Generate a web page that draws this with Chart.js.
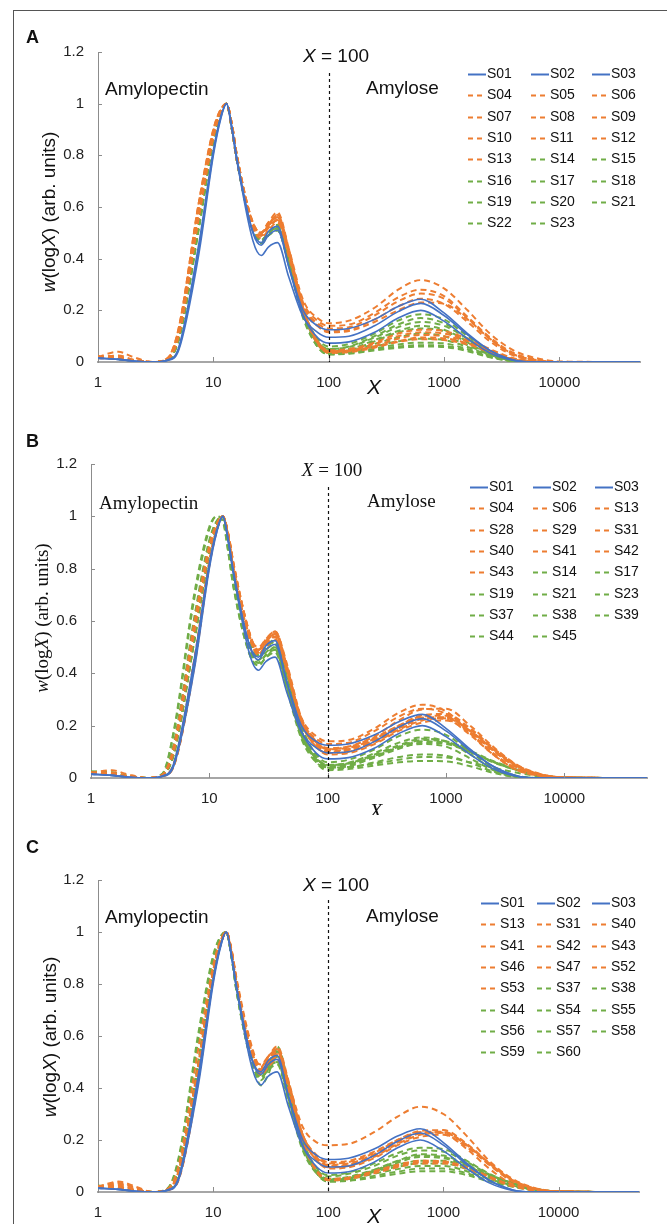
<!DOCTYPE html>
<html>
<head>
<meta charset="utf-8">
<script src="https://cdn.jsdelivr.net/npm/chart.js@4.4.1/dist/chart.umd.min.js"></script>
<style>
  body { margin: 0; background: #fff; }
  #wrap { position: relative; width: 667px; height: 1224px; overflow: hidden; }
  #frame { position: absolute; left: 13px; top: 10px; width: 700px; height: 1300px;
           border-left: 1.5px solid #555; border-top: 1.5px solid #555; }
  canvas { position: absolute; left: 0; }
</style>
</head>
<body>
<div id="wrap">
  <div id="frame"></div>
  <canvas id="chartA" width="667" height="400" style="top:0px"></canvas>
  <canvas id="chartB" width="667" height="415" style="top:400px"></canvas>
  <canvas id="chartC" width="667" height="409" style="top:815px"></canvas>
</div>
<script>
// degree of polymerization grid (X) shared by every curve
const X = [1, 1.5, 2, 3, 4, 5, 7.5, 10, 11.5, 13, 14.5, 16, 22, 26, 30, 36, 45, 60, 80, 100, 150, 250, 400, 630, 1000, 1600, 2500, 4000, 6300, 10000, 50000];
const xTicks = [1, 10, 100, 1000, 10000];

// w(logX) per sample
const S01 = [0.015, 0.010, 0.004, 0, 0.006, 0.045, 0.42, 0.80, 0.935, 1, 0.90, 0.78, 0.47, 0.412, 0.445, 0.462, 0.33, 0.175, 0.115, 0.096, 0.100, 0.140, 0.195, 0.227, 0.180, 0.105, 0.045, 0.008, 0, 0, 0];
const S02 = [0.015, 0.010, 0.004, 0, 0.007, 0.05, 0.44, 0.81, 0.94, 1, 0.91, 0.79, 0.50, 0.452, 0.49, 0.51, 0.37, 0.20, 0.14, 0.125, 0.13, 0.165, 0.215, 0.243, 0.19, 0.11, 0.045, 0.008, 0, 0, 0];
const S03 = [0.015, 0.010, 0.004, 0, 0.008, 0.055, 0.46, 0.82, 0.945, 1, 0.90, 0.78, 0.505, 0.462, 0.505, 0.525, 0.37, 0.18, 0.095, 0.073, 0.078, 0.115, 0.17, 0.2, 0.158, 0.09, 0.035, 0.006, 0, 0, 0];
const S04 = [0.02, 0.015, 0.006, 0, 0.012, 0.11, 0.58, 0.88, 0.97, 1, 0.92, 0.80, 0.53, 0.49, 0.52, 0.55, 0.42, 0.23, 0.16, 0.14, 0.145, 0.19, 0.25, 0.28, 0.255, 0.175, 0.095, 0.035, 0.01, 0, 0];
const S05 = [0.02, 0.04, 0.02, 0, 0.015, 0.13, 0.62, 0.90, 0.975, 1, 0.90, 0.78, 0.54, 0.50, 0.53, 0.57, 0.44, 0.24, 0.17, 0.15, 0.16, 0.21, 0.28, 0.317, 0.285, 0.2, 0.11, 0.045, 0.015, 0.002, 0];
const S06 = [0.02, 0.015, 0.005, 0, 0.012, 0.12, 0.60, 0.89, 0.97, 1, 0.92, 0.80, 0.54, 0.50, 0.53, 0.56, 0.43, 0.22, 0.15, 0.13, 0.135, 0.18, 0.235, 0.265, 0.245, 0.17, 0.09, 0.03, 0.008, 0, 0];
const S07 = [0.018, 0.02, 0.008, 0, 0.01, 0.10, 0.57, 0.87, 0.965, 1, 0.91, 0.79, 0.52, 0.48, 0.51, 0.54, 0.41, 0.21, 0.14, 0.12, 0.125, 0.165, 0.215, 0.245, 0.225, 0.155, 0.08, 0.025, 0.006, 0, 0];
const S08 = [0.02, 0.015, 0.005, 0, 0.012, 0.11, 0.59, 0.88, 0.97, 1, 0.91, 0.79, 0.53, 0.50, 0.54, 0.58, 0.44, 0.21, 0.08, 0.045, 0.05, 0.075, 0.11, 0.125, 0.12, 0.09, 0.05, 0.015, 0.003, 0, 0];
const S09 = [0.015, 0.012, 0.004, 0, 0.01, 0.12, 0.61, 0.89, 0.97, 1, 0.90, 0.78, 0.52, 0.49, 0.53, 0.57, 0.43, 0.20, 0.075, 0.04, 0.045, 0.07, 0.1, 0.115, 0.11, 0.085, 0.045, 0.012, 0.002, 0, 0];
const S10 = [0.02, 0.025, 0.01, 0, 0.013, 0.13, 0.62, 0.90, 0.975, 1, 0.90, 0.78, 0.53, 0.50, 0.54, 0.56, 0.42, 0.20, 0.07, 0.04, 0.042, 0.062, 0.09, 0.105, 0.1, 0.08, 0.045, 0.012, 0.002, 0, 0];
const S11 = [0.018, 0.015, 0.005, 0, 0.01, 0.11, 0.58, 0.88, 0.97, 1, 0.91, 0.79, 0.53, 0.49, 0.53, 0.56, 0.43, 0.21, 0.075, 0.035, 0.038, 0.055, 0.08, 0.095, 0.092, 0.072, 0.04, 0.01, 0.002, 0, 0];
const S12 = [0.02, 0.018, 0.006, 0, 0.012, 0.12, 0.60, 0.89, 0.97, 1, 0.92, 0.80, 0.54, 0.50, 0.53, 0.55, 0.42, 0.21, 0.08, 0.042, 0.045, 0.06, 0.078, 0.088, 0.085, 0.068, 0.038, 0.01, 0.002, 0, 0];
const S13 = [0.02, 0.015, 0.006, 0, 0.011, 0.10, 0.56, 0.87, 0.965, 1, 0.92, 0.80, 0.53, 0.49, 0.52, 0.55, 0.42, 0.22, 0.14, 0.115, 0.12, 0.155, 0.2, 0.23, 0.225, 0.165, 0.09, 0.03, 0.008, 0, 0];
const S14 = [0.02, 0.015, 0.005, 0, 0.01, 0.09, 0.53, 0.86, 0.96, 1, 0.91, 0.79, 0.52, 0.47, 0.50, 0.53, 0.40, 0.20, 0.09, 0.06, 0.07, 0.11, 0.16, 0.185, 0.165, 0.1, 0.04, 0.008, 0, 0, 0];
const S15 = [0.018, 0.012, 0.004, 0, 0.009, 0.085, 0.52, 0.86, 0.96, 1, 0.91, 0.79, 0.52, 0.47, 0.50, 0.52, 0.39, 0.19, 0.08, 0.05, 0.06, 0.10, 0.145, 0.17, 0.15, 0.09, 0.035, 0.006, 0, 0, 0];
const S16 = [0.02, 0.015, 0.005, 0, 0.01, 0.09, 0.54, 0.87, 0.965, 1, 0.90, 0.78, 0.51, 0.46, 0.49, 0.52, 0.39, 0.19, 0.075, 0.045, 0.05, 0.085, 0.12, 0.14, 0.125, 0.08, 0.03, 0.005, 0, 0, 0];
const S17 = [0.02, 0.014, 0.004, 0, 0.01, 0.10, 0.55, 0.87, 0.965, 1, 0.90, 0.78, 0.51, 0.46, 0.49, 0.51, 0.38, 0.18, 0.07, 0.04, 0.045, 0.08, 0.115, 0.13, 0.12, 0.075, 0.03, 0.005, 0, 0, 0];
const S18 = [0.018, 0.012, 0.004, 0, 0.009, 0.085, 0.52, 0.86, 0.96, 1, 0.91, 0.79, 0.52, 0.47, 0.50, 0.53, 0.40, 0.19, 0.07, 0.035, 0.04, 0.07, 0.095, 0.11, 0.1, 0.065, 0.028, 0.005, 0, 0, 0];
const S19 = [0.02, 0.015, 0.005, 0, 0.01, 0.09, 0.53, 0.86, 0.96, 1, 0.90, 0.78, 0.51, 0.47, 0.50, 0.52, 0.39, 0.18, 0.065, 0.035, 0.04, 0.06, 0.08, 0.09, 0.085, 0.058, 0.025, 0.004, 0, 0, 0];
const S20 = [0.02, 0.015, 0.005, 0, 0.01, 0.095, 0.54, 0.87, 0.965, 1, 0.90, 0.78, 0.51, 0.46, 0.49, 0.51, 0.38, 0.18, 0.06, 0.03, 0.035, 0.052, 0.068, 0.075, 0.072, 0.05, 0.022, 0.004, 0, 0, 0];
const S21 = [0.018, 0.012, 0.004, 0, 0.009, 0.09, 0.53, 0.86, 0.96, 1, 0.91, 0.79, 0.52, 0.47, 0.50, 0.52, 0.39, 0.18, 0.06, 0.03, 0.034, 0.048, 0.06, 0.065, 0.063, 0.045, 0.02, 0.003, 0, 0, 0];
const S22 = [0.02, 0.015, 0.005, 0, 0.01, 0.09, 0.53, 0.86, 0.96, 1, 0.90, 0.78, 0.51, 0.46, 0.49, 0.51, 0.38, 0.17, 0.06, 0.03, 0.032, 0.045, 0.055, 0.06, 0.058, 0.042, 0.018, 0.003, 0, 0, 0];
const S23 = [0.02, 0.014, 0.005, 0, 0.01, 0.095, 0.54, 0.87, 0.965, 1, 0.90, 0.78, 0.52, 0.47, 0.50, 0.53, 0.40, 0.19, 0.08, 0.05, 0.058, 0.095, 0.135, 0.155, 0.14, 0.09, 0.035, 0.006, 0, 0, 0];
const S28 = [0.02, 0.03, 0.015, 0, 0.008, 0.05, 0.45, 0.82, 0.945, 1, 0.93, 0.82, 0.55, 0.49, 0.53, 0.56, 0.44, 0.23, 0.14, 0.11, 0.12, 0.16, 0.22, 0.262, 0.265, 0.2, 0.12, 0.05, 0.015, 0.002, 0];
const S29 = [0.02, 0.015, 0.006, 0, 0.007, 0.045, 0.43, 0.81, 0.94, 1, 0.93, 0.82, 0.55, 0.48, 0.52, 0.55, 0.43, 0.22, 0.13, 0.10, 0.11, 0.15, 0.2, 0.24, 0.245, 0.19, 0.115, 0.048, 0.014, 0.002, 0];
const S31 = [0.018, 0.012, 0.005, 0, 0.007, 0.045, 0.44, 0.82, 0.945, 1, 0.925, 0.81, 0.54, 0.47, 0.51, 0.54, 0.42, 0.22, 0.13, 0.10, 0.105, 0.14, 0.19, 0.225, 0.23, 0.18, 0.11, 0.045, 0.013, 0.002, 0];
const S37 = [0.025, 0.02, 0.008, 0, 0.013, 0.13, 0.62, 0.91, 0.98, 1, 0.90, 0.77, 0.49, 0.44, 0.47, 0.50, 0.36, 0.17, 0.075, 0.05, 0.055, 0.085, 0.12, 0.145, 0.14, 0.105, 0.065, 0.035, 0.012, 0.002, 0];
const S38 = [0.02, 0.018, 0.006, 0, 0.012, 0.12, 0.60, 0.90, 0.98, 1, 0.90, 0.77, 0.49, 0.44, 0.47, 0.49, 0.35, 0.16, 0.07, 0.045, 0.05, 0.078, 0.112, 0.135, 0.13, 0.1, 0.062, 0.032, 0.01, 0.002, 0];
const S39 = [0.022, 0.02, 0.008, 0, 0.016, 0.18, 0.71, 0.96, 1, 0.985, 0.86, 0.73, 0.47, 0.43, 0.46, 0.49, 0.35, 0.16, 0.075, 0.05, 0.056, 0.09, 0.125, 0.15, 0.14, 0.1, 0.06, 0.03, 0.01, 0.001, 0];
const S40 = [0.02, 0.018, 0.006, 0, 0.008, 0.05, 0.45, 0.82, 0.945, 1, 0.925, 0.81, 0.54, 0.47, 0.50, 0.53, 0.41, 0.21, 0.12, 0.095, 0.1, 0.135, 0.185, 0.22, 0.228, 0.18, 0.11, 0.045, 0.012, 0.002, 0];
const S41 = [0.02, 0.02, 0.008, 0, 0.008, 0.055, 0.46, 0.83, 0.95, 1, 0.925, 0.81, 0.54, 0.48, 0.52, 0.55, 0.42, 0.22, 0.13, 0.105, 0.11, 0.145, 0.195, 0.23, 0.232, 0.178, 0.105, 0.04, 0.01, 0.001, 0];
const S42 = [0.018, 0.014, 0.005, 0, 0.007, 0.048, 0.44, 0.82, 0.945, 1, 0.93, 0.82, 0.55, 0.48, 0.52, 0.56, 0.43, 0.22, 0.135, 0.11, 0.115, 0.15, 0.2, 0.235, 0.238, 0.185, 0.112, 0.046, 0.013, 0.002, 0];
const S43 = [0.02, 0.016, 0.006, 0, 0.008, 0.05, 0.45, 0.82, 0.945, 1, 0.925, 0.81, 0.54, 0.47, 0.51, 0.54, 0.42, 0.21, 0.12, 0.09, 0.095, 0.13, 0.18, 0.212, 0.22, 0.172, 0.105, 0.042, 0.012, 0.002, 0];
const S44 = [0.02, 0.015, 0.005, 0, 0.012, 0.12, 0.60, 0.90, 0.975, 1, 0.90, 0.77, 0.49, 0.45, 0.48, 0.50, 0.36, 0.17, 0.07, 0.048, 0.053, 0.083, 0.118, 0.14, 0.135, 0.1, 0.062, 0.03, 0.01, 0.001, 0];
const S45 = [0.025, 0.022, 0.01, 0, 0.015, 0.17, 0.69, 0.95, 1, 0.98, 0.86, 0.73, 0.47, 0.43, 0.46, 0.48, 0.34, 0.15, 0.06, 0.04, 0.042, 0.055, 0.07, 0.08, 0.078, 0.06, 0.04, 0.02, 0.006, 0.001, 0];
const S46 = [0.02, 0.04, 0.025, 0, 0.01, 0.08, 0.50, 0.85, 0.96, 1, 0.92, 0.80, 0.53, 0.47, 0.50, 0.53, 0.42, 0.25, 0.19, 0.18, 0.185, 0.23, 0.29, 0.328, 0.3, 0.215, 0.12, 0.05, 0.015, 0.002, 0];
const S47 = [0.02, 0.03, 0.015, 0, 0.009, 0.07, 0.48, 0.84, 0.955, 1, 0.92, 0.80, 0.53, 0.46, 0.49, 0.52, 0.40, 0.20, 0.08, 0.05, 0.055, 0.08, 0.105, 0.12, 0.118, 0.095, 0.06, 0.025, 0.007, 0.001, 0];
const S52 = [0.018, 0.025, 0.012, 0, 0.009, 0.07, 0.49, 0.84, 0.955, 1, 0.91, 0.79, 0.52, 0.45, 0.48, 0.51, 0.39, 0.19, 0.075, 0.045, 0.05, 0.072, 0.095, 0.11, 0.11, 0.09, 0.055, 0.022, 0.006, 0.001, 0];
const S53 = [0.02, 0.035, 0.02, 0, 0.01, 0.075, 0.50, 0.85, 0.96, 1, 0.92, 0.80, 0.53, 0.46, 0.49, 0.52, 0.40, 0.20, 0.08, 0.05, 0.055, 0.078, 0.1, 0.115, 0.115, 0.092, 0.058, 0.024, 0.007, 0.001, 0];
const S54 = [0.02, 0.015, 0.006, 0, 0.01, 0.08, 0.50, 0.85, 0.96, 1, 0.91, 0.79, 0.50, 0.43, 0.47, 0.55, 0.42, 0.20, 0.09, 0.065, 0.075, 0.11, 0.15, 0.17, 0.165, 0.12, 0.07, 0.035, 0.012, 0.002, 0];
const S55 = [0.02, 0.012, 0.005, 0, 0.01, 0.085, 0.51, 0.86, 0.96, 1, 0.91, 0.79, 0.50, 0.41, 0.45, 0.54, 0.41, 0.19, 0.085, 0.06, 0.07, 0.1, 0.14, 0.16, 0.155, 0.115, 0.068, 0.034, 0.012, 0.002, 0];
const S56 = [0.022, 0.018, 0.007, 0, 0.011, 0.08, 0.50, 0.85, 0.96, 1, 0.90, 0.78, 0.50, 0.44, 0.48, 0.53, 0.40, 0.19, 0.08, 0.05, 0.058, 0.085, 0.105, 0.12, 0.12, 0.095, 0.06, 0.03, 0.01, 0.001, 0];
const S57 = [0.02, 0.015, 0.006, 0, 0.01, 0.08, 0.50, 0.85, 0.96, 1, 0.91, 0.79, 0.51, 0.45, 0.49, 0.56, 0.42, 0.20, 0.08, 0.045, 0.052, 0.078, 0.097, 0.11, 0.11, 0.088, 0.055, 0.028, 0.009, 0.001, 0];
const S58 = [0.018, 0.012, 0.005, 0, 0.01, 0.085, 0.51, 0.86, 0.96, 1, 0.91, 0.79, 0.50, 0.44, 0.48, 0.52, 0.39, 0.18, 0.075, 0.045, 0.05, 0.07, 0.088, 0.1, 0.1, 0.08, 0.05, 0.025, 0.008, 0.001, 0];
const S59 = [0.02, 0.015, 0.006, 0, 0.01, 0.08, 0.50, 0.85, 0.96, 1, 0.90, 0.78, 0.50, 0.44, 0.48, 0.53, 0.40, 0.19, 0.07, 0.04, 0.045, 0.062, 0.078, 0.09, 0.09, 0.072, 0.045, 0.022, 0.007, 0.001, 0];
const S60 = [0.02, 0.014, 0.005, 0, 0.01, 0.08, 0.50, 0.85, 0.96, 1, 0.91, 0.79, 0.51, 0.45, 0.49, 0.54, 0.41, 0.19, 0.07, 0.04, 0.043, 0.056, 0.07, 0.08, 0.08, 0.065, 0.04, 0.02, 0.006, 0.001, 0];

// which samples each panel shows, in legend order
const panelA = ['S01','S02','S03','S04','S05','S06','S07','S08','S09','S10','S11','S12','S13','S14','S15','S16','S17','S18','S19','S20','S21','S22','S23'];
const panelB = ['S01','S02','S03','S04','S06','S13','S28','S29','S31','S40','S41','S42','S43','S14','S17','S19','S21','S23','S37','S38','S39','S44','S45'];
const panelC = ['S01','S02','S03','S13','S31','S40','S41','S42','S43','S46','S47','S52','S53','S37','S38','S44','S54','S55','S56','S57','S58','S59','S60'];

// colour groups
const refSamples = ['S01','S02','S03'];
const orangeSamples = ['S04','S05','S06','S07','S08','S09','S10','S11','S12','S13','S28','S29','S31','S40','S41','S42','S43','S46','S47','S52','S53'];

const curves = { S01, S02, S03, S04, S05, S06, S07, S08, S09, S10, S11, S12, S13, S14, S15, S16, S17, S18, S19, S20, S21, S22, S23,
  S28, S29, S31, S37, S38, S39, S40, S41, S42, S43, S44, S45, S46, S47, S52, S53, S54, S55, S56, S57, S58, S59, S60 };

const BLUE = '#4472C4', ORANGE = '#ED7D31', GREEN = '#70AD47';
const SANS = '"Liberation Sans", Arial, sans-serif';
const SERIF = '"Liberation Serif", "Times New Roman", serif';

Chart.defaults.font.family = SANS;
Chart.defaults.color = '#222';

function makeDatasets(names) {
    return names.map(name => {
        const color = refSamples.includes(name) ? BLUE : (orangeSamples.includes(name) ? ORANGE : GREEN);
        const solid = color === BLUE;
        return {
            label: name,
            data: X.map((x, i) => ({ x: x, y: curves[name][i] })),
            borderColor: color,
            borderWidth: solid ? 1.6 : 2,
            borderDash: solid ? [] : [6, 4],
            pointRadius: 0,
            fill: false,
            cubicInterpolationMode: 'monotone'
        };
    });
}

// draw text made of normal / italic pieces, centred on (x, y)
function drawRich(ctx, parts, x, y, size, family) {
    let total = 0;
    parts.forEach(p => {
        ctx.font = (p[1] ? 'italic ' : '') + size + 'px ' + family;
        total += ctx.measureText(p[0]).width;
    });
    let cx = x - total / 2;
    ctx.textAlign = 'left';
    ctx.textBaseline = 'middle';
    parts.forEach(p => {
        ctx.font = (p[1] ? 'italic ' : '') + size + 'px ' + family;
        ctx.fillText(p[0], cx, y);
        cx += ctx.measureText(p[0]).width;
    });
}

const panelDecor = {
    id: 'panelDecor',
    afterDatasetsDraw(chart, args, o) {
        const ctx = chart.ctx;
        const xs = chart.scales.x, ys = chart.scales.y;
        const area = chart.chartArea;
        const fam = o.serif ? SERIF : SANS;
        ctx.save();

        // small inward tick marks
        ctx.strokeStyle = '#8c8c8c';
        ctx.lineWidth = 1;
        ctx.beginPath();
        xTicks.slice(1).forEach(v => {
            const px = Math.round(xs.getPixelForValue(v)) + 0.5;
            ctx.moveTo(px, area.bottom);
            ctx.lineTo(px, area.bottom - 5);
        });
        [0.2, 0.4, 0.6, 0.8, 1, 1.2].forEach(v => {
            const py = Math.round(ys.getPixelForValue(v)) + 0.5;
            ctx.moveTo(area.left, py);
            ctx.lineTo(area.left + 4, py);
        });
        ctx.stroke();

        // X = 100 divider
        const x100 = Math.round(xs.getPixelForValue(100)) + 0.5;
        ctx.strokeStyle = '#111';
        ctx.lineWidth = 1.2;
        ctx.setLineDash([3, 3]);
        ctx.beginPath();
        ctx.moveTo(x100, o.lineTop);
        ctx.lineTo(x100, area.bottom);
        ctx.stroke();
        ctx.setLineDash([]);

        ctx.fillStyle = '#111';
        drawRich(ctx, [['X', true], [' = 100', false]], o.divText[0], o.divText[1], 19, fam);

        ctx.font = '19px ' + fam;
        ctx.textAlign = 'left';
        ctx.textBaseline = 'middle';
        ctx.fillText('Amylopectin', o.amylopectin[0], o.amylopectin[1]);
        ctx.fillText('Amylose', o.amylose[0], o.amylose[1]);

        // axis titles
        ctx.save();
        ctx.translate(o.yTitle[0], o.yTitle[1]);
        ctx.rotate(-Math.PI / 2);
        drawRich(ctx, [['w', true], ['(log', false], ['X', true], [') (arb. units)', false]], 0, 0, 19, fam);
        ctx.restore();
        drawRich(ctx, [['X', true]], o.xTitle[0], o.xTitle[1], 21, fam);

        // panel letter
        ctx.font = 'bold 18px ' + SANS;
        ctx.textAlign = 'left';
        ctx.fillText(o.letter, 26, o.letterY);

        // three-column legend
        ctx.font = '14px ' + SANS;
        chart.data.datasets.forEach((ds, i) => {
            const lx = o.legendX[i % 3];
            const ly = Math.round(o.legendY + Math.floor(i / 3) * o.legendDy) + 0.5;
            ctx.strokeStyle = ds.borderColor;
            ctx.lineWidth = 2;
            ctx.setLineDash(ds.borderDash.length ? [5, 4] : []);
            ctx.beginPath();
            ctx.moveTo(lx, ly);
            ctx.lineTo(lx + 18, ly);
            ctx.stroke();
            ctx.setLineDash([]);
            ctx.fillStyle = '#111';
            ctx.fillText(ds.label, lx + 19, ly);
        });
        ctx.restore();
    }
};

function makeChart(id, names, geo) {
    return new Chart(document.getElementById(id), {
        type: 'line',
        data: { datasets: makeDatasets(names) },
        plugins: [panelDecor],
        options: {
            responsive: false,
            animation: false,
            events: [],
            layout: { padding: { left: 0, right: geo.right, top: geo.top, bottom: 0 } },
            plugins: {
                legend: { display: false },
                tooltip: { enabled: false },
                panelDecor: geo.decor
            },
            scales: {
                x: {
                    type: 'logarithmic',
                    min: 1,
                    max: 50000,
                    afterBuildTicks: scale => { scale.ticks = xTicks.map(v => ({ value: v })); },
                    afterFit: scale => { scale.height = geo.xHeight; },
                    ticks: {
                        autoSkip: false,
                        maxRotation: 0,
                        padding: geo.xPad,
                        font: { size: 15 },
                        callback: v => String(v)
                    },
                    grid: { display: false, drawTicks: false },
                    border: { display: true, color: '#a6a6a6', width: 2 }
                },
                y: {
                    min: 0,
                    max: 1.2,
                    afterFit: scale => { scale.width = geo.left; },
                    ticks: {
                        stepSize: 0.2,
                        padding: 14,
                        font: { size: 15 },
                        callback: v => String(Math.round(v * 10) / 10)
                    },
                    grid: { display: false, drawTicks: false },
                    border: { display: true, color: '#8c8c8c', width: 1 }
                }
            }
        }
    });
}

makeChart('chartA', panelA, {
    left: 98, right: 27, top: 52, xHeight: 38, xPad: 12,
    decor: {
        letter: 'A', letterY: 38, serif: false, lineTop: 73,
        divText: [336, 57], amylopectin: [105, 90], amylose: [366, 89],
        yTitle: [50, 212], xTitle: [374, 388],
        legendX: [468, 531, 592], legendY: 74, legendDy: 21.3
    }
});

makeChart('chartB', panelB, {
    left: 91, right: 20, top: 64, xHeight: 37, xPad: 12,
    decor: {
        letter: 'B', letterY: 42, serif: true, lineTop: 87,
        divText: [332, 71], amylopectin: [99, 104], amylose: [367, 102],
        yTitle: [43, 218], xTitle: [376, 412],
        legendX: [470, 533, 595], legendY: 87, legendDy: 21.3
    }
});

makeChart('chartC', panelC, {
    left: 98, right: 28, top: 65, xHeight: 32, xPad: 12,
    decor: {
        letter: 'C', letterY: 33, serif: false, lineTop: 85,
        divText: [336, 71], amylopectin: [105, 103], amylose: [366, 102],
        yTitle: [51, 222], xTitle: [374, 402],
        legendX: [481, 537, 592], legendY: 88, legendDy: 21.3
    }
});
</script>
</body>
</html>
